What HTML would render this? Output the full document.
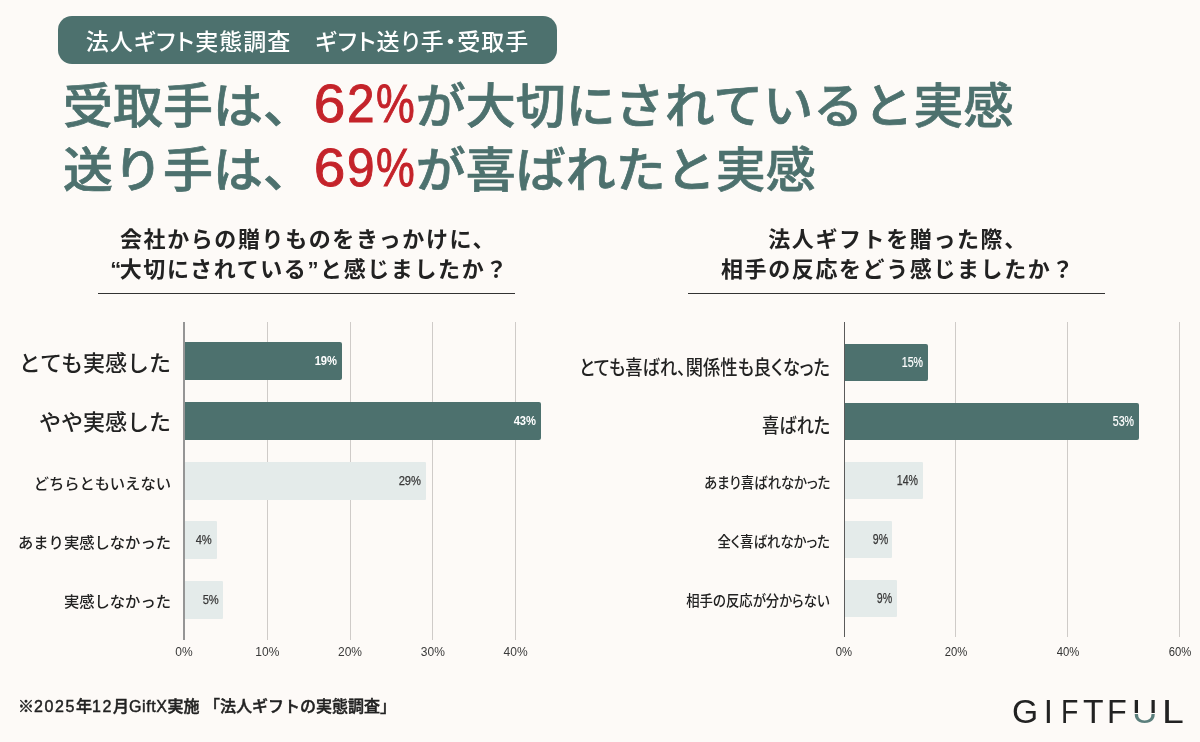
<!DOCTYPE html>
<html lang="ja">
<head>
<meta charset="utf-8">
<style>
*{margin:0;padding:0;box-sizing:border-box;}
html,body{width:1200px;height:742px;overflow:hidden;}
body{background:#fdfaf7;position:relative;font-family:"Liberation Sans","Noto Sans CJK JP",sans-serif;color:#222;}
.abs{position:absolute;white-space:nowrap;}
.pill{left:58px;top:16px;width:499px;height:48px;border-radius:14px;background:#4d716e;color:#fff;font-family:"Liberation Sans","Noto Sans CJK JP",sans-serif;font-weight:500;font-size:23px;line-height:52px;text-align:center;letter-spacing:1px;font-feature-settings:"palt";}
.hl{left:63px;font-family:"Liberation Sans","Noto Sans CJK JP",sans-serif;font-weight:500;font-size:48px;letter-spacing:0.1px;line-height:64px;color:#4d716e;-webkit-text-stroke:0.7px #4d716e;transform:scaleX(1.04);transform-origin:0 0;}
.hl .red{font-family:"Liberation Sans",sans-serif;font-weight:400;font-size:53px;}
.hl .red{color:#c4232a;letter-spacing:0px;-webkit-text-stroke:0.9px #c4232a;}
.red i{font-style:normal;display:inline-block;transform-origin:0 0;position:relative;top:-1px;}
.red .g6{width:32.6px;transform:scaleX(1.03);}
.red .g2{width:27.5px;transform:scaleX(0.9);}
.red .gp{width:38.5px;transform:scaleX(0.79);}
.ttl{font-family:"Liberation Sans","Noto Sans CJK JP",sans-serif;font-weight:700;font-size:22px;line-height:29.5px;letter-spacing:1.6px;text-align:center;color:#222;}
.rule{height:1px;background:#333;}
.grid{width:1px;background:#cfcbc8;}
.axis{width:2px;background:#959595;}
.bar{border-radius:0 2px 2px 0;}
.dk{background:#4d716e;}
.lt{background:#e4ebea;border-radius:0 1px 1px 0;}
.val{font-family:"Liberation Sans","Noto Sans CJK JP",sans-serif;text-align:right;position:absolute;right:4.5px;top:0;white-space:nowrap;transform-origin:right center;}
.vl{font-size:13px;transform:scaleX(0.86);}
.vr{font-size:14px;transform:scaleX(0.76);}
.dk .val{color:#fff;font-weight:700;}
.dk .vr{font-weight:400;-webkit-text-stroke:0.2px #fff;}
.lt .val{color:#383838;font-weight:400;-webkit-text-stroke:0.25px #383838;}
.cat{font-family:"Liberation Sans","Noto Sans CJK JP",sans-serif;text-align:right;color:#222;font-weight:500;line-height:37px;}
.cl1{right:1029px;font-size:22px;}
.cl2{right:1029px;font-size:15.3px;}
.cr1{right:370px;font-size:20px;transform-origin:right center;transform:scaleX(0.862);font-feature-settings:"palt";}
.cr2{right:370px;font-size:15px;transform-origin:right center;transform:scaleX(0.893);font-feature-settings:"palt";}
.tick{font-family:"Liberation Sans",sans-serif;font-size:12px;color:#3a3a3a;width:60px;text-align:center;}
.tr{color:#333;transform:scaleX(0.94);}
.foot{left:18px;top:697px;font-family:"Liberation Sans","Noto Sans CJK JP",sans-serif;font-weight:500;font-size:16px;line-height:20px;letter-spacing:0px;color:#222;-webkit-text-stroke:0.45px #222;}
.foot .fd{letter-spacing:1.6px;}
.foot .fg{letter-spacing:0.6px;}
.logo{font-family:"Liberation Sans",sans-serif;font-weight:400;font-size:33px;line-height:40px;color:#222;}
.logo span{position:absolute;top:692px;transform-origin:0 0;display:block;}
.logo .lu{color:transparent;background:linear-gradient(to bottom,#222 0,#222 21px,#fdfaf7 21px,#fdfaf7 22px,#5b7f7c 22px);-webkit-background-clip:text;background-clip:text;}
</style>
</head>
<body>
<div class="abs pill">法人ギフト実態調査　ギフト送り手・受取手</div>

<div class="abs hl" style="top:73px;">受取手は、<span class="red"><i class="g6">6</i><i class="g2">2</i><i class="gp">%</i></span>が大切にされていると実感</div>
<div class="abs hl" style="top:137px;">送り手は、<span class="red"><i class="g6">6</i><i class="g2">9</i><i class="gp">%</i></span>が喜ばれたと実感</div>

<!-- left chart title -->
<div class="abs ttl" style="left:98px;width:420px;top:225px;">会社からの贈りものをきっかけに、<br><span style="position:relative;left:3px;">“</span>大切にされている”と感じましたか？</div>
<div class="abs rule" style="left:98px;width:417px;top:293px;"></div>

<!-- right chart title -->
<div class="abs ttl" style="left:688px;width:420px;top:225px;">法人ギフトを贈った際、<br>相手の反応をどう感じましたか？</div>
<div class="abs rule" style="left:688px;width:417px;top:293px;"></div>

<!-- left chart -->
<div class="abs grid" style="left:266.8px;top:322px;height:318px;"></div>
<div class="abs grid" style="left:349.5px;top:322px;height:318px;"></div>
<div class="abs grid" style="left:432.3px;top:322px;height:318px;"></div>
<div class="abs grid" style="left:515.1px;top:322px;height:318px;"></div>
<div class="abs bar dk" style="left:184px;top:342px;height:38px;width:158.0px;"><div class="val vl" style="line-height:38px;">19%</div></div>
<div class="abs bar dk" style="left:184px;top:402px;height:38px;width:356.5px;"><div class="val vl" style="line-height:38px;">43%</div></div>
<div class="abs bar lt" style="left:184px;top:462px;height:38px;width:241.5px;"><div class="val vl" style="line-height:38px;">29%</div></div>
<div class="abs bar lt" style="left:184px;top:521px;height:38px;width:32.7px;"><div class="val vl" style="line-height:38px;">4%</div></div>
<div class="abs bar lt" style="left:184px;top:581px;height:38px;width:39.3px;"><div class="val vl" style="line-height:38px;">5%</div></div>
<div class="abs axis" style="left:183px;top:322px;height:318px;"></div>
<div class="abs cat cl1" style="top:345px;line-height:38px;">とても実感した</div>
<div class="abs cat cl1" style="top:403.5px;line-height:38px;">やや実感した</div>
<div class="abs cat cl2" style="top:465px;line-height:38px;">どちらともいえない</div>
<div class="abs cat cl2" style="top:524px;line-height:38px;">あまり実感しなかった</div>
<div class="abs cat cl2" style="top:583px;line-height:38px;">実感しなかった</div>
<div class="abs tick" style="left:154.0px;top:645.3px;">0%</div>
<div class="abs tick" style="left:237.3px;top:645.3px;">10%</div>
<div class="abs tick" style="left:320.0px;top:645.3px;">20%</div>
<div class="abs tick" style="left:402.8px;top:645.3px;">30%</div>
<div class="abs tick" style="left:485.6px;top:645.3px;">40%</div>

<!-- right chart -->
<div class="abs grid" style="left:955.3px;top:322px;height:315px;"></div>
<div class="abs grid" style="left:1067.2px;top:322px;height:315px;"></div>
<div class="abs grid" style="left:1179.2px;top:322px;height:315px;"></div>
<div class="abs bar dk" style="left:844.5px;top:344px;height:37px;width:83.5px;"><div class="val vr" style="line-height:37px;">15%</div></div>
<div class="abs bar dk" style="left:844.5px;top:402.5px;height:37px;width:294.5px;"><div class="val vr" style="line-height:37px;">53%</div></div>
<div class="abs bar lt" style="left:844.5px;top:461.5px;height:37px;width:78.5px;"><div class="val vr" style="line-height:37px;">14%</div></div>
<div class="abs bar lt" style="left:844.5px;top:520.5px;height:37px;width:47.9px;"><div class="val vr" style="line-height:37px;">9%</div></div>
<div class="abs bar lt" style="left:844.5px;top:579.5px;height:37px;width:52.5px;"><div class="val vr" style="line-height:37px;">9%</div></div>
<div class="abs axis" style="left:844px;top:322px;height:315px;width:1px;background:#5a5a5a;"></div>
<div class="abs cat cr1" style="top:349.5px;line-height:37px;">とても喜ばれ、関係性も良くなった</div>
<div class="abs cat cr1" style="top:408px;line-height:37px;">喜ばれた</div>
<div class="abs cat cr2" style="top:463.5px;line-height:37px;">あまり喜ばれなかった</div>
<div class="abs cat cr2" style="top:522.5px;line-height:37px;">全く喜ばれなかった</div>
<div class="abs cat cr2" style="top:581.5px;line-height:37px;">相手の反応が分からない</div>
<div class="abs tick tr" style="left:814.2px;top:645.3px;">0%</div>
<div class="abs tick tr" style="left:925.8px;top:645.3px;">20%</div>
<div class="abs tick tr" style="left:1037.7px;top:645.3px;">40%</div>
<div class="abs tick tr" style="left:1149.7px;top:645.3px;">60%</div>

<!-- footer -->
<div class="abs foot">※<span class="fd">2025</span>年<span class="fd">12</span>月<span class="fg">GiftX</span>実施 「法人ギフトの実態調査」</div>

<div class="logo"><span style="left:1011.8px;transform:scaleX(1.02);">G</span><span style="left:1043.8px;">I</span><span style="left:1060.6px;transform:scaleX(0.86);">F</span><span style="left:1083px;transform:scaleX(1.02);">T</span><span style="left:1107px;transform:scaleX(0.98);">F</span><span class="lu" style="left:1131.9px;transform:scaleX(1.07);">U</span><span style="left:1161.6px;transform:scaleX(1.19);">L</span></div>
</body>
</html>
